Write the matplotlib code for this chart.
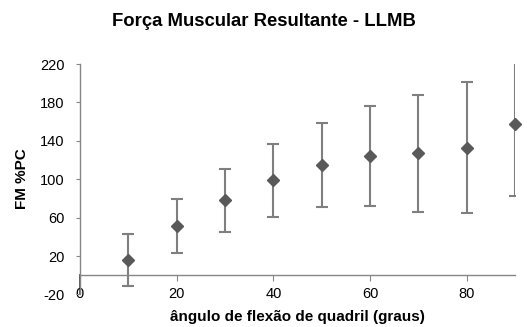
import matplotlib
matplotlib.use("Agg")
import matplotlib.pyplot as plt

plt.rcParams['font.family'] = ['Liberation Sans', 'DejaVu Sans']
plt.rcParams['axes.unicode_minus'] = False

angles = [10, 20, 30, 40, 50, 60, 70, 80, 90]
fm_mean = [16, 51, 78, 99, 115, 124, 127, 133, 157]
fm_sd = [27, 28, 33, 38, 44, 52, 61, 68, 75]
x_ticks = [0, 20, 40, 60, 80]
y_ticks = [-20, 20, 60, 100, 140, 180, 220]

fig = plt.figure(figsize=(5.27, 3.27), dpi=100)
ax = fig.add_axes([80 / 527, 1 - 294.4 / 327, 435 / 527, (294.4 - 64) / 327])

# error bars are clipped to the plot area, the diamonds are not
ax.errorbar(angles, fm_mean, yerr=fm_sd, fmt='none',
            ecolor='#7f7f7f', elinewidth=1.5, capsize=4.5,
            capthick=1.5, zorder=2)
ax.plot(angles, fm_mean, linestyle='none', marker='D', markersize=6.5,
        color='#595959', zorder=3, clip_on=False)

ax.set_xlim(0, 90)
ax.set_ylim(-20, 220)
ax.set_xticks(x_ticks)
ax.set_yticks(y_ticks)

axis_color = '#868686'
ax.spines['top'].set_visible(False)
ax.spines['right'].set_visible(False)
ax.spines['left'].set_color(axis_color)
ax.spines['bottom'].set_color(axis_color)
ax.spines['bottom'].set_position(('data', 0))
ax.spines['left'].set_linewidth(1.0)
ax.spines['bottom'].set_linewidth(1.0)

# darker stub of the vertical axis below the zero line
ax.plot([0, 0], [-20, 0], color='#3a3a3a', linewidth=1.2, clip_on=False,
        zorder=1)

ax.tick_params(axis='y', direction='out', length=3, color=axis_color,
               labelsize=10.5, labelcolor='black', pad=8)
ax.tick_params(axis='x', direction='out', length=4, color=axis_color,
               labelsize=10.5, labelcolor='black')
# x tick labels sit at the bottom edge of the plot area, level with -20
for t in ax.xaxis.get_major_ticks():
    t.label1.set_transform(ax.get_xaxis_transform())
    t.label1.set_y(0.0)
    t.label1.set_verticalalignment('center')

fig.text(0.5, 1 - 21 / 327, 'Força Muscular Resultante - LLMB',
         ha='center', va='center', fontsize=13.3, fontweight='bold')
fig.text(297 / 527, 1 - 317 / 327, 'ângulo de flexão de quadril (graus)',
         ha='center', va='center', fontsize=11, fontweight='bold')
fig.text(22 / 527, 1 - 179 / 327, 'FM %PC', rotation=90,
         ha='center', va='center', fontsize=11, fontweight='bold')

fig.savefig('out.png', dpi=100)
